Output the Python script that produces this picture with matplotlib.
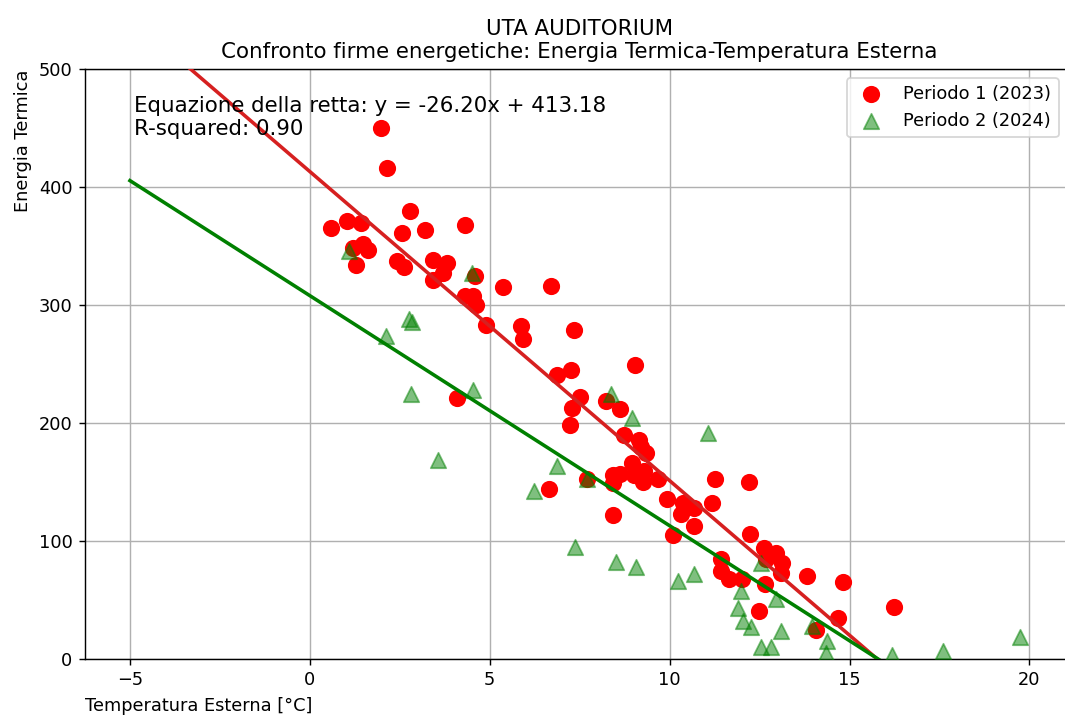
import numpy as np
import matplotlib
matplotlib.use("Agg")
import matplotlib.pyplot as plt

# Periodo 1 (2023) - temperature / energy
temp_2023 = [0.59, 1.03, 1.41, 1.98, 2.15, 2.78, 2.57, 3.20, 4.31,
             1.21, 1.49, 1.63, 1.28, 2.43, 2.62, 3.43, 3.82, 3.70, 3.43, 4.60,
             4.31, 4.54, 4.63, 5.37, 6.71, 4.91, 5.88, 5.92, 7.33, 9.05,
             6.87, 7.25, 7.51, 7.28, 8.23, 8.61, 7.22, 4.10, 7.70, 6.66,
             8.74, 9.16, 9.20, 9.34, 8.95, 8.42, 8.61, 8.42, 9.02, 9.30,
             9.25, 9.67, 9.93, 10.36, 10.31, 10.68, 10.68, 11.17, 11.26, 12.21,
             8.42, 10.08, 12.23, 12.62, 12.95, 12.67, 13.13, 13.09, 11.42, 11.42,
             11.65, 12.02, 12.65, 13.81, 14.82, 12.48, 14.67, 14.06, 16.23]
energy_2023 = [365, 371, 370, 450, 416, 380, 361, 364, 368,
               348, 352, 347, 334, 337, 332, 338, 336, 327, 321, 325,
               308, 308, 300, 315, 316, 283, 282, 271, 279, 249,
               241, 245, 222, 213, 219, 212, 198, 221, 153, 144,
               190, 186, 180, 175, 166, 156, 157, 149, 156, 159,
               150, 153, 136, 132, 123, 128, 113, 132, 153, 150,
               122, 105, 106, 94, 90, 85, 81, 73, 85, 75,
               68, 68, 64, 70, 65, 41, 35, 25, 44]

# Periodo 2 (2024)
temp_2024 = [1.10, 2.11, 2.75, 2.85, 2.81, 3.57, 4.50, 4.54, 6.23, 6.87,
             7.36, 7.70, 8.37, 8.95, 8.51, 9.07, 10.22, 10.68, 11.07, 11.91,
             11.98, 12.05, 12.27, 12.53, 12.55, 12.81, 12.95, 13.09, 13.96, 14.38,
             14.36, 16.18, 17.61, 19.74]
energy_2024 = [346, 274, 288, 286, 225, 169, 327, 228, 142, 164,
               95, 153, 225, 204, 82, 78, 66, 72, 192, 43,
               58, 32, 27, 81, 10, 10, 51, 24, 28, 15,
               5, 3, 7, 19]

# Regression lines
slope_2023, intercept_2023 = -26.20, 413.18
slope_2024, intercept_2024 = -19.5, 308.0
r2_2023 = 0.90
line_x = np.linspace(-5, 20, 100)

DPI = 128
fig = plt.figure(figsize=(1065 / DPI, 715 / DPI), dpi=DPI)
ax = fig.add_axes([0.0798, 0.0783, 0.929, 0.825])

ax.scatter(temp_2023, energy_2023, color='red', marker='o', s=75, label='Periodo 1 (2023)', zorder=3)
ax.scatter(temp_2024, energy_2024, color='green', marker='^', s=75, alpha=0.5, label='Periodo 2 (2024)', zorder=3)
ax.plot(line_x, slope_2023 * line_x + intercept_2023, color='#d62020', linewidth=2, zorder=4)
ax.plot(line_x, slope_2024 * line_x + intercept_2024, color='green', linewidth=2, zorder=4)

ax.set_xlim(-6.25, 21.25)
ax.set_ylim(0, 500)
ax.grid(True)
ax.set_xticks([-5, 0, 5, 10, 15, 20])
ax.set_yticks([0, 100, 200, 300, 400, 500])

ax.text(0.05, 0.955, f"Equazione della retta: y = {slope_2023:.2f}x + {intercept_2023:.2f}\nR-squared: {r2_2023:.2f}",
        transform=ax.transAxes, fontsize=12, va='top', ha='left', zorder=5)

ax.set_title("UTA AUDITORIUM\nConfronto firme energetiche: Energia Termica-Temperatura Esterna", fontsize=12)
ax.set_xlabel("Temperatura Esterna [°C]", loc='left')
ax.set_ylabel("Energia Termica", loc='top')
ax.legend(loc='upper right', bbox_to_anchor=(0.993, 1.0))

fig.savefig("out.png", dpi=DPI)
